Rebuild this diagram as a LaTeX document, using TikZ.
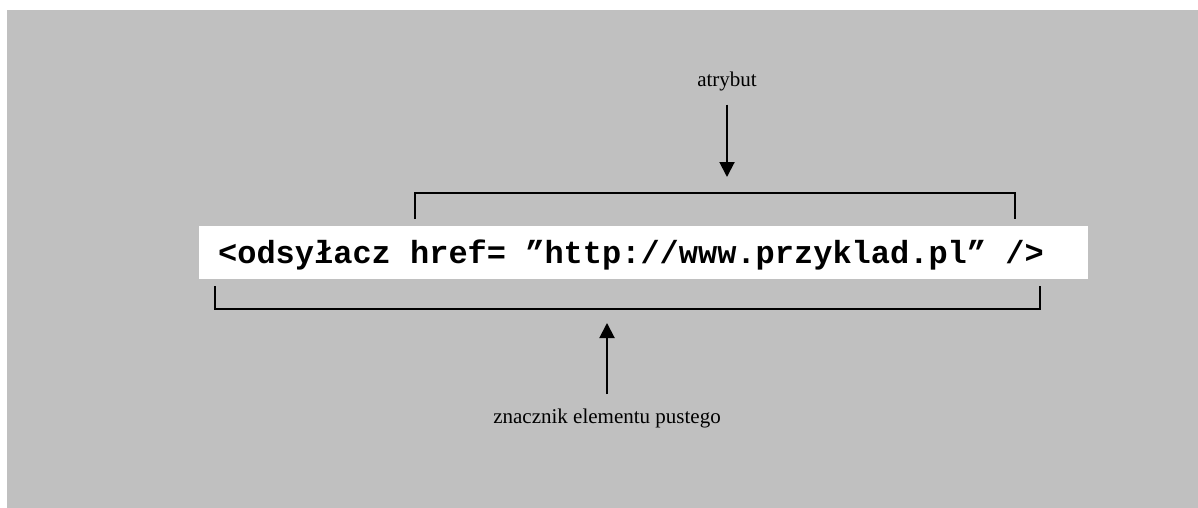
\documentclass[tikz,border=0pt]{standalone}
\usepackage{fontspec}
\setmainfont{Liberation Serif}
\newfontfamily\codefont{Liberation Mono}
\usetikzlibrary{arrows.meta}
\definecolor{bggray}{RGB}{192,192,192}

\begin{document}
\begin{tikzpicture}[x=1pt,y=-1pt,
  labeltext/.style={font=\fontsize{21}{24}\selectfont, inner sep=0pt, anchor=base},
  codetext/.style={font=\codefont\bfseries\fontsize{32}{36}\selectfont, inner sep=0pt, anchor=base},
  bracket/.style={line width=2pt, line join=miter},
  pointer/.style={line width=2pt, -{Triangle[length=15pt,width=15pt]}},
]
\useasboundingbox (0,0) rectangle (1198,508);
\fill[white] (0,0) rectangle (1198,508);
\fill[bggray] (7,10) rectangle (1198,508);

% white strip behind the tag
\node[fill=white, minimum width=889pt, minimum height=53pt, inner sep=0pt,
      anchor=north west] (codebox) at (199,226) {};
\node[codetext] (code) at (631,263) {<odsyłacz href= ”http://www.przyklad.pl” />};

% bracket over the attribute
\coordinate (attrleft)  at (415,219);
\coordinate (attrmid)   at (727,193);
\coordinate (attrright) at (1015,219);
\draw[bracket] (attrleft) |- (attrmid) -| (attrright);

% bracket under the whole tag
\coordinate (tagleft)  at (215,286);
\coordinate (tagmid)   at (607,309);
\coordinate (tagright) at (1040,286);
\draw[bracket] (tagleft) |- (tagmid) -| (tagright);

% labels and pointers
\node[labeltext] (attr) at (727,87) {atrybut};
\coordinate (attrtip) at (727,177);
\draw[pointer, shorten <=13pt] (attr.south) -- (attrtip);

\node[labeltext] (tag) at (607,423) {znacznik elementu pustego};
\coordinate (tagtip) at (607,323);
\draw[pointer, shorten <=14pt] (tag.north) -- (tagtip);
\end{tikzpicture}
\end{document}
